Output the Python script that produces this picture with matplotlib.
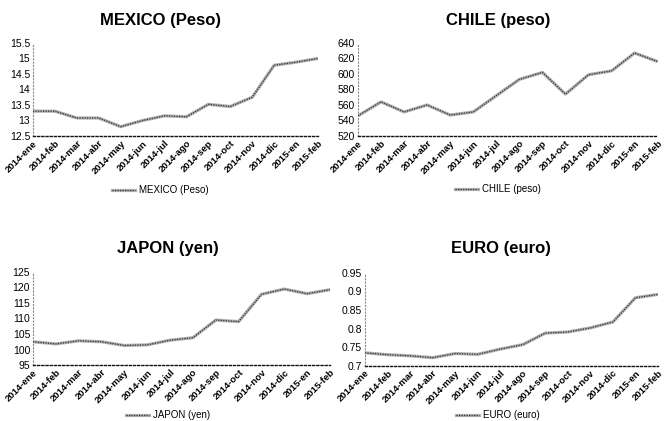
#!/usr/bin/env python3
"""
Tipo de cambio frente al dolar, 2014-ene a 2015-feb (4 paneles)
Generates: out.png
"""
import matplotlib.pyplot as plt
from matplotlib.lines import Line2D

plt.rcParams['font.family'] = ['Liberation Sans', 'DejaVu Sans']

months = ['2014-ene', '2014-feb', '2014-mar', '2014-abr', '2014-may', '2014-jun',
          '2014-jul', '2014-ago', '2014-sep', '2014-oct', '2014-nov', '2014-dic',
          '2015-en', '2015-feb']

mexico = [13.30, 13.30, 13.08, 13.08, 12.80, 13.00, 13.15, 13.12, 13.52, 13.45,
          13.75, 14.78, 14.88, 15.00]
chile = [546, 564, 551, 560, 547, 551, 572, 593, 602, 574, 599, 604, 627, 616]
japon = [102.5, 101.8, 102.8, 102.5, 101.3, 101.5, 103.0, 103.8, 109.5, 109.0,
         117.8, 119.5, 118.0, 119.3]
euro = [0.735, 0.730, 0.727, 0.722, 0.733, 0.731, 0.745, 0.757, 0.788, 0.791,
        0.802, 0.818, 0.883, 0.892]

panels = [
    # title, data, ylim, yticks, axes rect, title xy (px), legend xy (px)
    ('MEXICO (Peso)', mexico, (12.5, 15.5), [12.5, 13, 13.5, 14, 14.5, 15, 15.5],
     [0.0495, 0.677, 0.428, 0.221], (160, 20), (160, 190)),
    ('CHILE (peso)', chile, (520, 640), [520, 540, 560, 580, 600, 620, 640],
     [0.5375, 0.677, 0.450, 0.221], (498, 20), (498, 189)),
    ('JAPON (yen)', japon, (95, 125), [95, 100, 105, 110, 115, 120, 125],
     [0.0495, 0.133, 0.446, 0.221], (168, 249), (168, 415)),
    ('EURO (euro)', euro, (0.7, 0.95), [0.7, 0.75, 0.8, 0.85, 0.9, 0.95],
     [0.548, 0.131, 0.440, 0.221], (501, 249), (498, 415)),
]

W, H = 666, 421
fig = plt.figure(figsize=(W / 100, H / 100), dpi=100)
fig.patch.set_facecolor('white')

x = list(range(len(months)))

for title, data, ylim, yticks, rect, txy, lxy in panels:
    ax = fig.add_axes(rect)
    # striped line: gray body with dark dashes on top
    ax.plot(x, data, color='#b0b0b0', linewidth=2.3, solid_capstyle='butt', zorder=3)
    ax.plot(x, data, color='#333333', linewidth=0.9, dashes=(1.0, 1.0), zorder=4)

    ax.set_xlim(0, len(months) - 1)
    ax.set_ylim(*ylim)
    ax.set_yticks(yticks)
    ax.set_yticklabels(['{:g}'.format(v) for v in yticks], fontsize=7.5)
    ax.set_xticks(x)
    ax.set_xticklabels(months, rotation=45, ha='right', rotation_mode='anchor',
                       fontsize=6.8, fontweight='bold')
    ax.tick_params(axis='both', length=0, pad=2)

    for s in ['top', 'right']:
        ax.spines[s].set_visible(False)
    ax.spines['left'].set_linestyle((0, (1, 2)))
    ax.spines['left'].set_color('#888888')
    ax.spines['left'].set_linewidth(0.8)
    ax.spines['bottom'].set_linestyle((0, (1.5, 1.5)))
    ax.spines['bottom'].set_color('#111111')
    ax.spines['bottom'].set_linewidth(1.0)

    fig.text(txy[0] / W, 1 - txy[1] / H, title, ha='center', va='center',
             fontsize=12, fontweight='bold')

    handle = (Line2D([], [], color='#b0b0b0', linewidth=2.3),
              Line2D([], [], color='#333333', linewidth=0.9, dashes=(1.0, 1.0)))
    fig.legend([handle], [title], loc='center',
               bbox_to_anchor=(lxy[0] / W, 1 - lxy[1] / H),
               frameon=False, fontsize=7, handlelength=2.4, handletextpad=0.4)

plt.savefig('out.png', dpi=100, facecolor='white')
